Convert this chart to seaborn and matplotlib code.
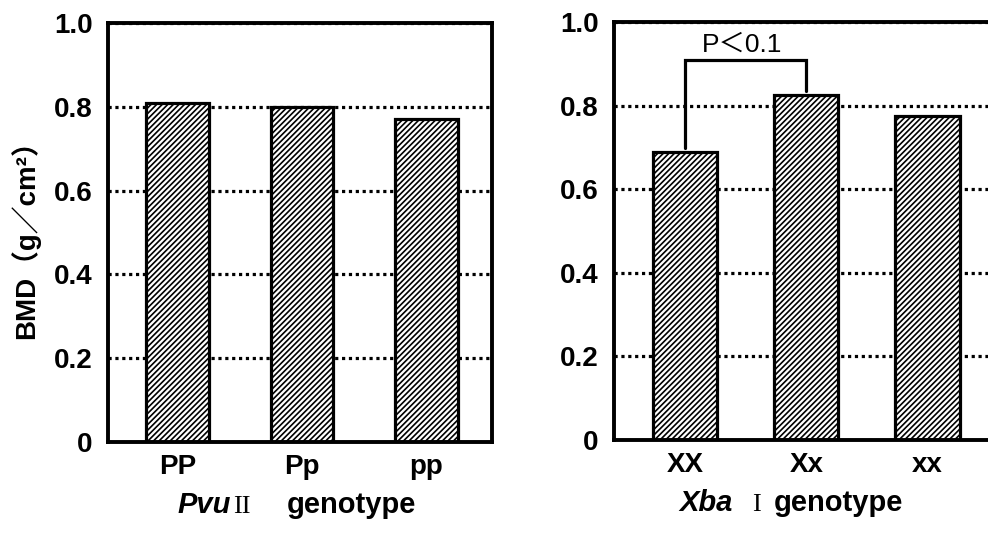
import matplotlib
matplotlib.use("Agg")
import matplotlib.pyplot as plt
import seaborn as sns
import pandas as pd

# ---- data ----
pvu_cats = ["PP", "Pp", "pp"]
pvu_vals = [0.81, 0.80, 0.77]
xba_cats = ["XX", "Xx", "xx"]
xba_vals = [0.69, 0.825, 0.775]
ytick_vals = [0, 0.2, 0.4, 0.6, 0.8, 1.0]
ytick_labels = ["0", "0.2", "0.4", "0.6", "0.8", "1.0"]
sig_label = "P＜0.1"
sig_top = 0.91
sig_gap = 0.009
ylabel = "BMD（g／cm²）"

sns.set_theme(style="white")
plt.rcParams["font.family"] = ["Liberation Sans", "Noto Sans CJK JP", "DejaVu Sans"]
plt.rcParams["font.weight"] = "bold"
plt.rcParams["hatch.linewidth"] = 1.2
plt.rcParams["hatch.color"] = "black"
for k in ["text.color", "axes.labelcolor", "xtick.color", "ytick.color", "axes.edgecolor"]:
    plt.rcParams[k] = "black"

fig = plt.figure(figsize=(9.88, 5.55), dpi=100)
W, H = 988, 555
ax1 = fig.add_axes([108 / W, 1 - 442 / H, 384 / W, 419 / H])
ax2 = fig.add_axes([614 / W, 1 - 440 / H, 380 / W, 418 / H])

def draw(ax, cats, vals, width, xlim):
    df = pd.DataFrame({"genotype": cats, "BMD": vals})
    sns.barplot(data=df, x="genotype", y="BMD", ax=ax, color="white",
                saturation=1, edgecolor="black", linewidth=2.3, width=width)
    for p in ax.patches:
        p.set_hatch("//////")
    ax.set_ylim(0, 1.0)
    ax.set_xlim(*xlim)
    ax.set_yticks(ytick_vals, ytick_labels)
    ax.yaxis.grid(True, linestyle=(0, (1, 1.15)), linewidth=2.3, color="black")
    ax.xaxis.grid(False)
    ax.set_axisbelow(True)
    ax.tick_params(axis="both", length=0, labelsize=20, colors="black")
    ax.tick_params(axis="y", pad=11)
    ax.tick_params(axis="x", pad=9)
    for lbl in ax.get_xticklabels() + ax.get_yticklabels():
        lbl.set_fontweight("bold")
    for s in ax.spines.values():
        s.set_visible(True)
        s.set_linewidth(2.8)
        s.set_color("black")
    ax.set_xlabel("")
    ax.set_ylabel("")
    ax.set_facecolor("white")

draw(ax1, pvu_cats, pvu_vals, 0.5, (-0.558, 2.526))
draw(ax2, xba_cats, xba_vals, 0.53, (-0.59, 2.55))

ax1.set_ylabel(ylabel, fontsize=20, fontweight="bold", color="black")
ax1.yaxis.set_label_coords(-0.176, 0.5)

# significance bracket
ax2.plot([0, 0, 1, 1],
         [xba_vals[0] + sig_gap, sig_top, sig_top, xba_vals[1] + sig_gap],
         color="black", linewidth=2.3, solid_joinstyle="miter", clip_on=False)
ax2.text(0.47, 0.945, sig_label, ha="center", va="center", fontsize=19,
         fontweight="normal", color="black")

# x-axis titles
base = 1 - 513 / H
fig.text(177 / W, base, "Pvu", fontsize=21, fontstyle="italic", fontweight="bold",
         va="baseline", ha="left")
fig.text(233 / W, base, "II", fontsize=19, family="Liberation Serif",
         fontweight="normal", va="baseline", ha="left")
fig.text(287 / W, base, "genotype", fontsize=21, fontweight="bold",
         va="baseline", ha="left")

base2 = 1 - 511 / H
fig.text(679 / W, base2, "Xba", fontsize=21, fontstyle="italic", fontweight="bold",
         va="baseline", ha="left")
fig.text(752 / W, base2, "I", fontsize=19, family="Liberation Serif",
         fontweight="normal", va="baseline", ha="left")
fig.text(774 / W, base2, "genotype", fontsize=21, fontweight="bold",
         va="baseline", ha="left")

fig.savefig("out.png", dpi=100, facecolor="white")
